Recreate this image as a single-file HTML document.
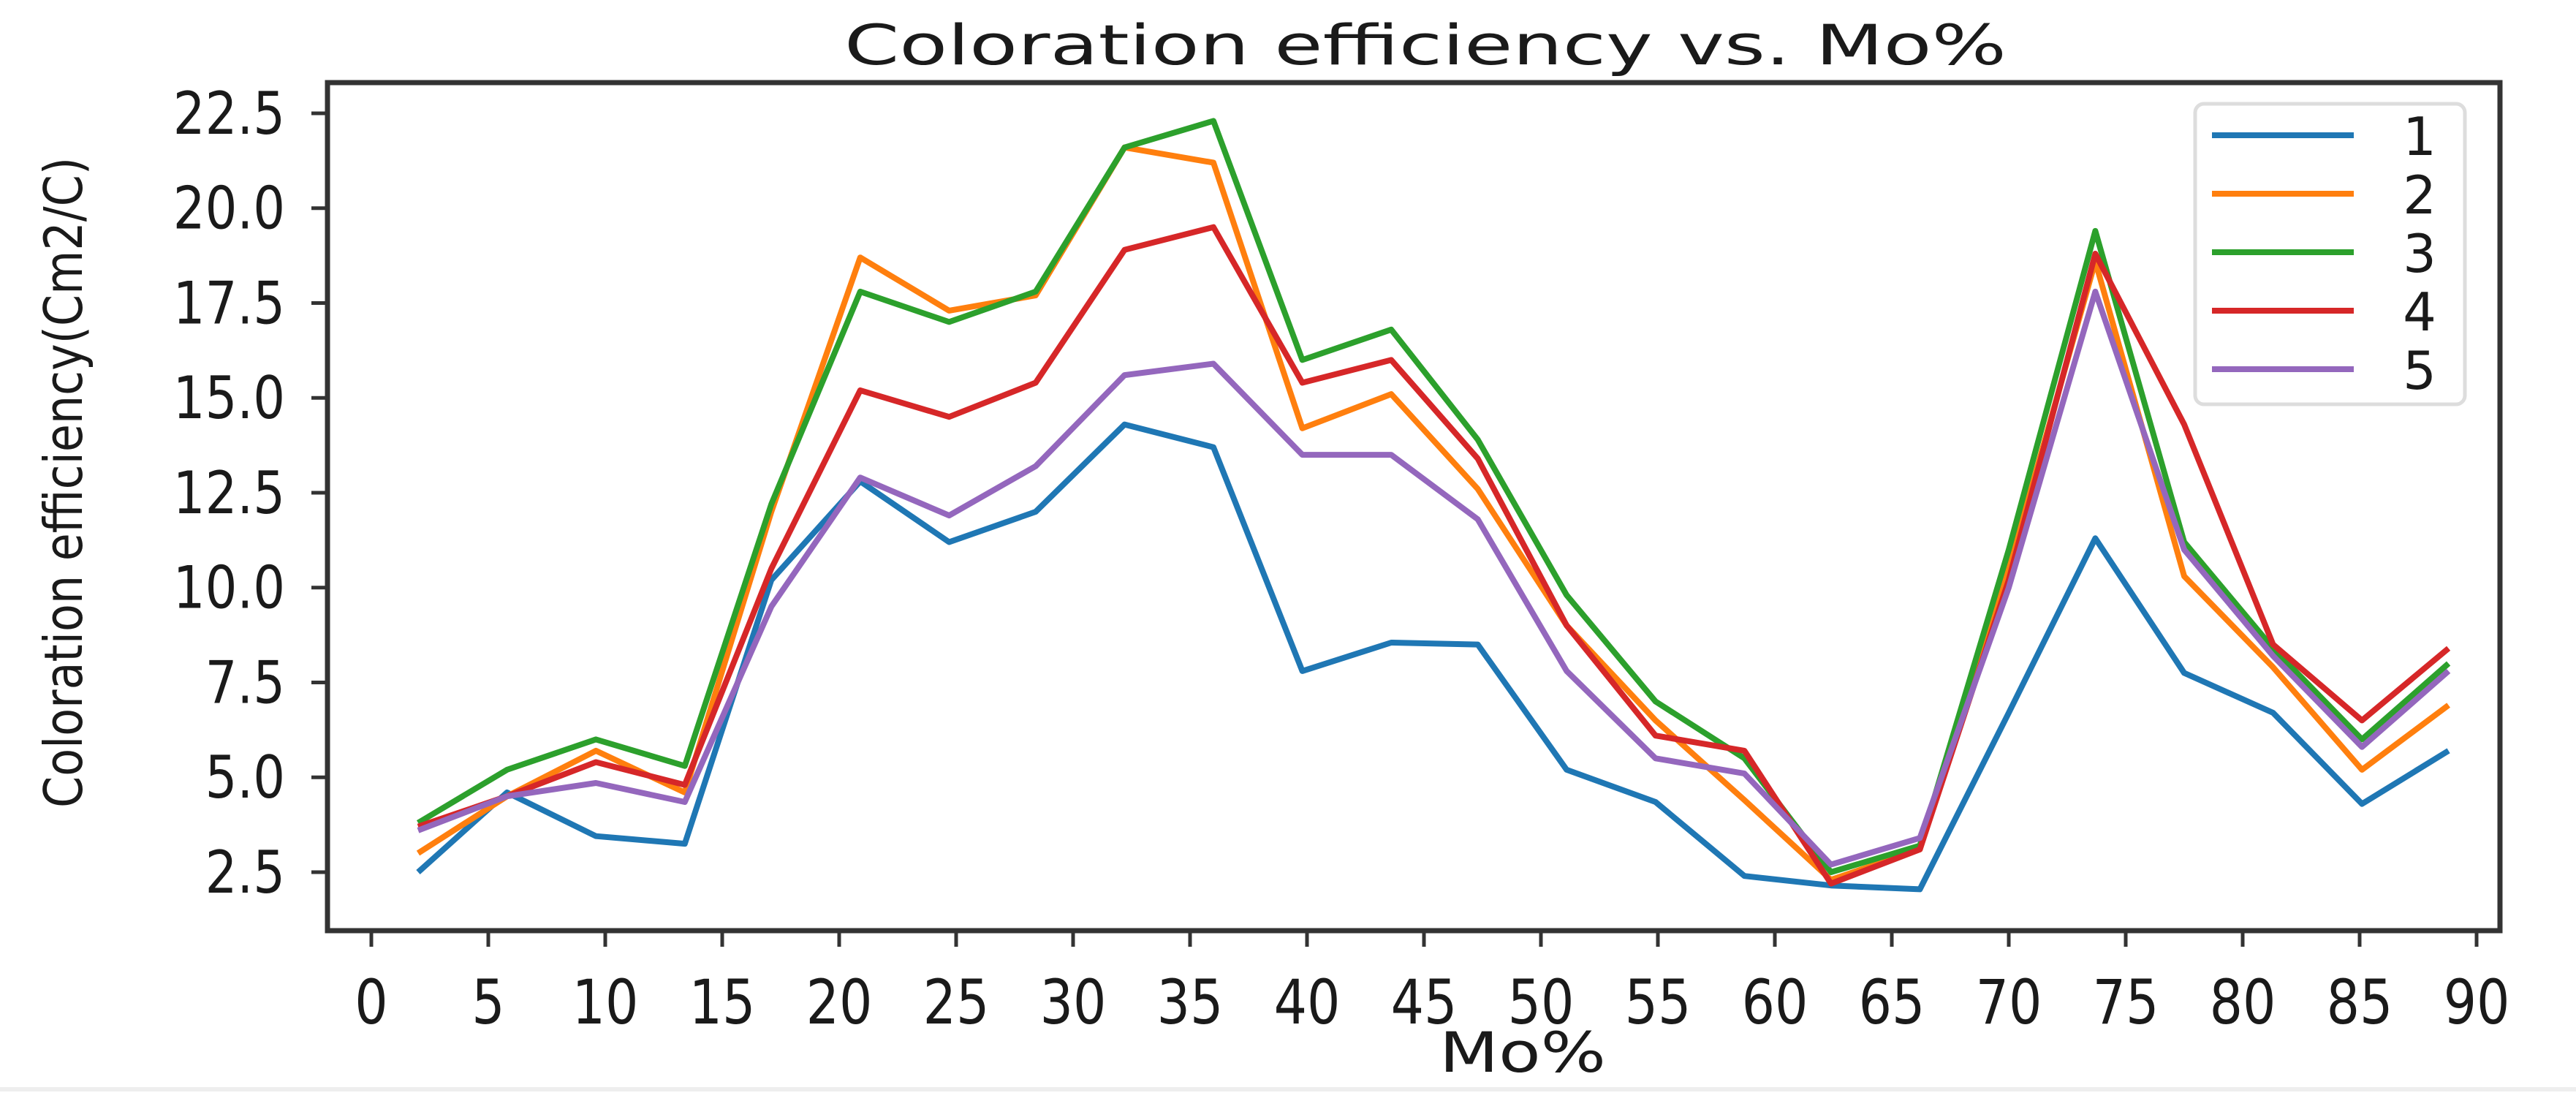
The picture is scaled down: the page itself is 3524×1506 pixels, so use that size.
<!DOCTYPE html>
<html><head><meta charset="utf-8">
<style>
html,body{margin:0;padding:0;background:#fff;}
svg{display:block;}
text{font-family:"DejaVu Sans","Liberation Sans",sans-serif;fill:#1a1a1a;}
</style></head>
<body>
<svg id="chart" width="3524" height="1506" viewBox="0 0 3524 1506" xmlns="http://www.w3.org/2000/svg">
<rect x="0" y="0" width="3524" height="1506" fill="#fff"/>
<text x="1950" y="88" font-size="76" text-anchor="middle" textLength="1590" lengthAdjust="spacingAndGlyphs">Coloration efficiency vs. Mo%</text>
<text transform="translate(112,660) rotate(-90)" font-size="72" text-anchor="middle" textLength="890" lengthAdjust="spacingAndGlyphs">Coloration efficiency(Cm2/C)</text>
<text x="2083" y="1466" font-size="76" text-anchor="middle" textLength="228" lengthAdjust="spacingAndGlyphs">Mo%</text>
<g id="axes"></g>
<line x1="0" y1="1490" x2="3524" y2="1490" stroke="#eee" stroke-width="6"/>
</svg>
<script>
const xTicks = [0,5,10,15,20,25,30,35,40,45,50,55,60,65,70,75,80,85,90];
const yTicks = [2.5,5.0,7.5,10.0,12.5,15.0,17.5,20.0,22.5];
const xValues = [2.0,5.8,9.6,13.4,17.1,20.9,24.7,28.4,32.2,36.0,39.8,43.6,47.3,51.1,54.9,58.7,62.4,66.2,70.0,73.7,77.5,81.3,85.1,88.8];
const series1 = [2.5,4.6,3.45,3.25,10.2,12.8,11.2,12.0,14.3,13.7,7.8,8.55,8.5,5.2,4.35,2.4,2.15,2.05,6.7,11.3,7.75,6.7,4.3,5.7];
const series2 = [3.0,4.5,5.7,4.6,12.0,18.7,17.3,17.7,21.6,21.2,14.2,15.1,12.6,9.0,6.5,4.4,2.3,3.1,10.5,18.6,10.3,7.9,5.2,6.9];
const series3 = [3.8,5.2,6.0,5.3,12.2,17.8,17.0,17.8,21.6,22.3,16.0,16.8,13.9,9.8,7.0,5.5,2.5,3.2,11.0,19.4,11.2,8.4,6.0,8.0];
const series4 = [3.7,4.5,5.4,4.8,10.5,15.2,14.5,15.4,18.9,19.5,15.4,16.0,13.4,9.0,6.1,5.7,2.2,3.1,10.2,18.8,14.3,8.5,6.5,8.4];
const series5 = [3.6,4.5,4.85,4.35,9.5,12.9,11.9,13.2,15.6,15.9,13.5,13.5,11.8,7.8,5.5,5.1,2.7,3.4,10.0,17.8,11.0,8.2,5.8,7.8];
const seriesNames = ["1","2","3","4","5"];
const colors = ["#1f77b4","#ff7f0e","#2ca02c","#d62728","#9467bd"];

const NS = "http://www.w3.org/2000/svg";
const L = 448, R = 3420, T = 113, B = 1273;
function xs(v){ return 508 + v*32; }
function ys(v){ return 155 + (22.5 - v) * (1193-155)/20; }
const g = document.getElementById('axes');
function mk(tag, attrs, parent){ const e=document.createElementNS(NS,tag); for(const k in attrs) e.setAttribute(k,attrs[k]); (parent||g).appendChild(e); return e; }

const all=[series1,series2,series3,series4,series5];
all.forEach((s,si)=>{
  const pts = s.map((v,i)=>xs(xValues[i]).toFixed(1)+","+ys(v).toFixed(1)).join(" ");
  const p = mk('polyline',{points:pts,fill:'none',stroke:colors[si],'stroke-width':8,'stroke-linejoin':'round'});
  
  
});

const fr = mk('rect',{x:L,y:T,width:R-L,height:B-T,fill:'none',stroke:'#333','stroke-width':7});



xTicks.forEach(t=>{
  const x=xs(t);
  const tk = mk('line',{x1:x,y1:B,x2:x,y2:B+22,stroke:'#333','stroke-width':5});
  
  
  const tx = mk('text',{x:x,y:1400,'font-size':84,'text-anchor':'middle',transform:`translate(${x},0) scale(0.85,1) translate(${-x},0)`});
  tx.textContent=String(t);
  
  
});
yTicks.forEach(t=>{
  const y=ys(t);
  const tk = mk('line',{x1:L-22,y1:y,x2:L,y2:y,stroke:'#333','stroke-width':5});
  
  
  const tx = mk('text',{x:390,y:y+28,'font-size':80,'text-anchor':'end',transform:`translate(390,0) scale(0.86,1) translate(-390,0)`});
  tx.textContent=t.toFixed(1);
  
  
});

const lg = mk('g',{});


mk('rect',{x:3003,y:142,width:369,height:411,rx:12,fill:'#fff',stroke:'#ddd','stroke-width':5},lg);
seriesNames.forEach((n,i)=>{
  const y=185+i*80;
  const e = mk('g',{},lg);
  
  
  mk('line',{x1:3026,y1:y,x2:3220,y2:y,stroke:colors[i],'stroke-width':8},e);
  const t = mk('text',{x:3310,y:y+27,'font-size':72,'text-anchor':'middle'},e);
  t.textContent=n;
});
</script>
</body></html>
